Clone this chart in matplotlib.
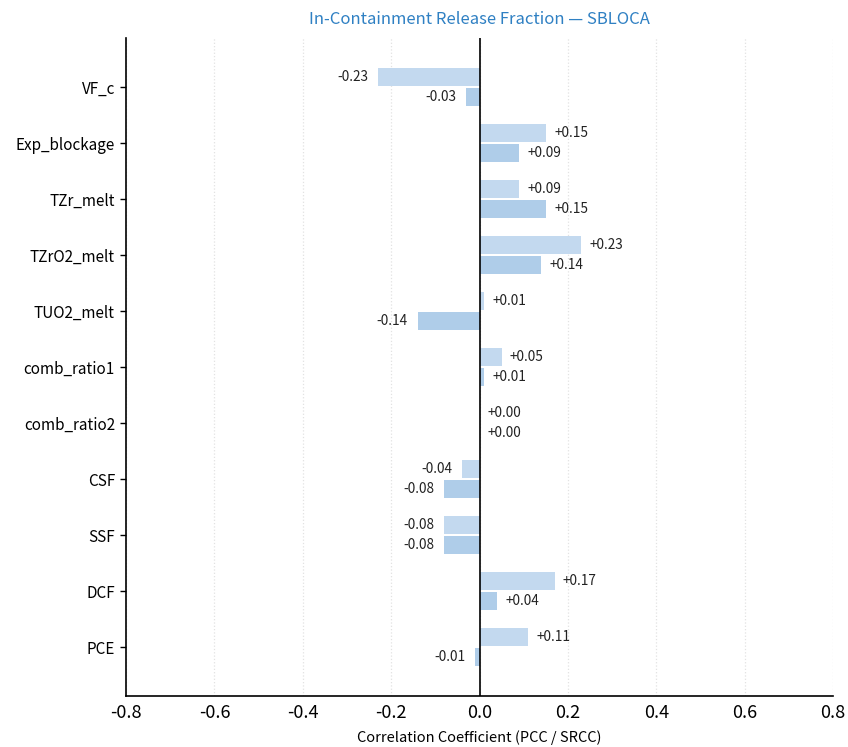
import matplotlib
matplotlib.use("Agg")
import matplotlib.pyplot as plt
import numpy as np

plt.rcParams['font.family'] = ['Noto Sans CJK KR', 'DejaVu Sans']

categories = ["VF_c", "Exp_blockage", "TZr_melt", "TZrO2_melt", "TUO2_melt",
              "comb_ratio1", "comb_ratio2", "CSF", "SSF", "DCF", "PCE"]
pcc = [-0.23, 0.15, 0.09, 0.23, 0.01, 0.05, 0.00, -0.04, -0.08, 0.17, 0.11]
srcc = [-0.03, 0.09, 0.15, 0.14, -0.14, 0.01, 0.00, -0.08, -0.08, 0.04, -0.01]
xticks = [-0.8, -0.6, -0.4, -0.2, 0.0, 0.2, 0.4, 0.6, 0.8]

fig = plt.figure(figsize=(8.48, 7.47), dpi=100)
ax = fig.add_axes([126/848, 1-696/747, (833-126)/848, (696-38)/747])

y = np.arange(len(categories))
off = 0.18
h = 0.32
ax.barh(y - off, pcc, height=h, color="#c3d9ef", zorder=2)
ax.barh(y + off, srcc, height=h, color="#afcde9", zorder=2)

def lab(yy, v):
    txt = f"{v:+.2f}"
    if v < 0:
        ax.annotate(txt, (v, yy), xytext=(-7, 0), textcoords="offset points",
                    ha="right", va="center", fontsize=9.8, color="#222222")
    else:
        ax.annotate(txt, (v, yy), xytext=(6, 0), textcoords="offset points",
                    ha="left", va="center", fontsize=9.8, color="#222222")

for i in range(len(categories)):
    lab(y[i] - off, pcc[i])
    lab(y[i] + off, srcc[i])

ax.axvline(0, color="black", lw=1.2, zorder=3)
ax.set_xlim(-0.8, 0.8)
ax.set_ylim(len(categories) - 1 + 0.875, -0.875)
ax.set_yticks(y)
ax.set_yticklabels(categories, fontsize=11)
ax.set_xticks(xticks)
ax.set_xticklabels([f"{t:.1f}" for t in xticks], fontsize=13)
ax.tick_params(axis='y', length=4, width=1, pad=4)
ax.tick_params(axis='x', length=0, pad=6)
ax.grid(axis='x', linestyle=':', color="#e2e2e2", lw=0.9, zorder=0)
for s in ["top", "right"]:
    ax.spines[s].set_visible(False)
ax.spines["left"].set_linewidth(1.2)
ax.spines["bottom"].set_linewidth(1.2)
ax.set_xlabel("Correlation Coefficient (PCC / SRCC)", fontsize=10.5, labelpad=6)
ax.set_title("In-Containment Release Fraction — SBLOCA", color="#2f80c3", fontsize=12, pad=10)

fig.savefig("out.png", dpi=100)
